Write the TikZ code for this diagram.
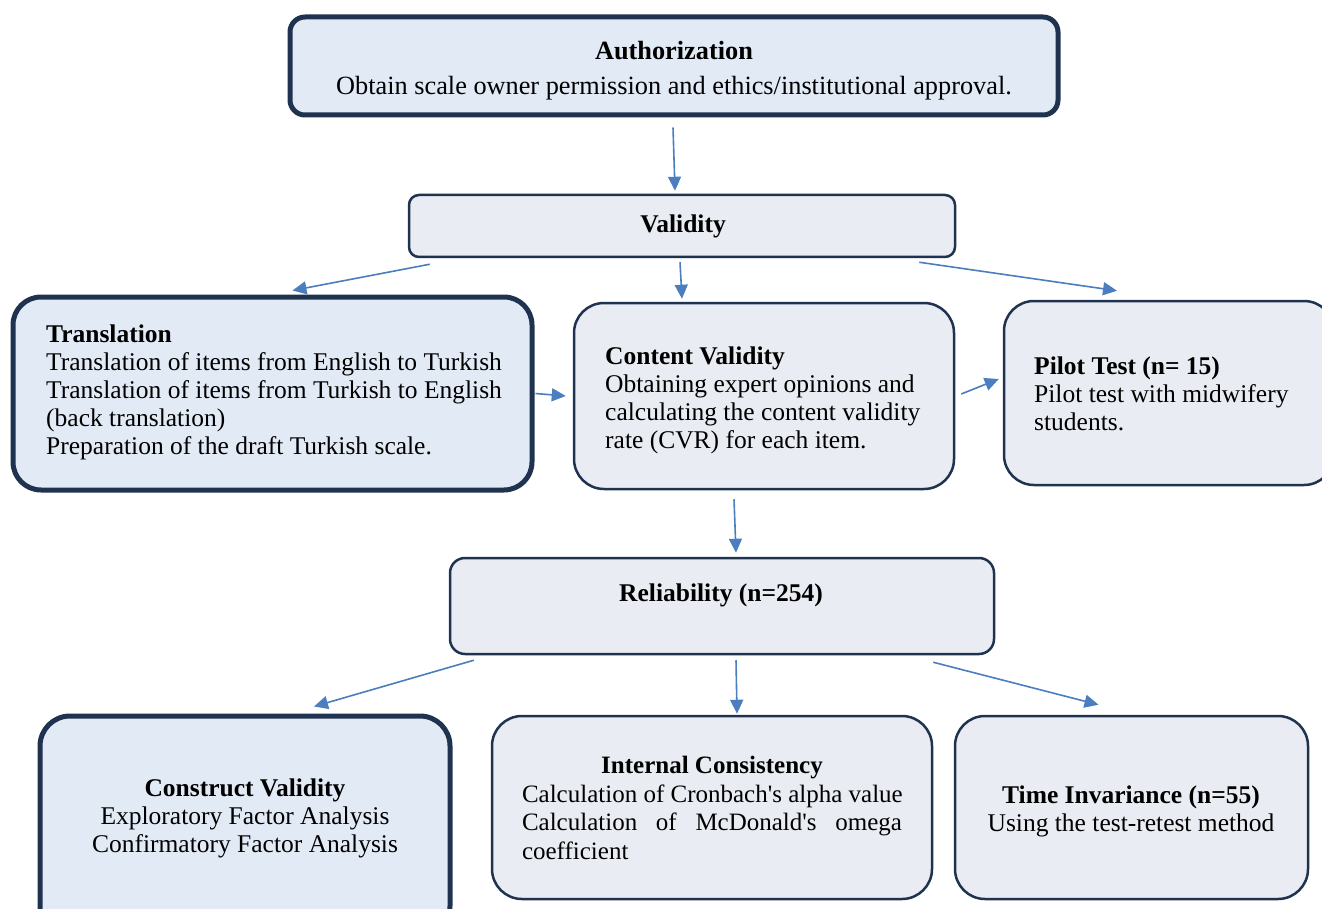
\documentclass[tikz,border=0pt]{standalone}
\usepackage{fontspec}
\setmainfont{Liberation Serif}
\usetikzlibrary{arrows.meta,calc}
\definecolor{bordc}{HTML}{1F3350}
\definecolor{fillblue}{HTML}{E2EAF6}
\definecolor{fillgray}{HTML}{E9ECF2}
\definecolor{arrc}{HTML}{4A7EBE}
\tikzset{
  thickbox/.style={draw=bordc, line width=5pt, fill=fillblue, rectangle},
  thinbox/.style={draw=bordc, line width=2.5pt, fill=fillgray, rectangle},
  txt/.style={inner sep=0pt, font=\fontsize{25.5}{28}\selectfont},
  conn/.style={draw=arrc, line width=1.6pt, -{Triangle[length=14pt,width=13pt]}}
}
\newcommand{\apo}{\textquotesingle}
\begin{document}
\begin{tikzpicture}[x=1pt,y=-1pt]
\useasboundingbox (0,0) rectangle (1322,909);
\clip (0,0) rectangle (1322,909);
% boxes
\node[thickbox, rounded corners=15pt, minimum width=768pt, minimum height=98pt] (auth) at (674,66) {};
\node[thinbox, rounded corners=10pt, minimum width=546pt, minimum height=62pt] (valid) at (682,226) {};
\node[thickbox, rounded corners=28pt, minimum width=519pt, minimum height=193pt] (trans) at (272.5,393.5) {};
\node[thinbox, rounded corners=30pt, minimum width=380pt, minimum height=186pt] (content) at (764,396) {};
\node[thinbox, rounded corners=30pt, minimum width=330pt, minimum height=184pt] (pilot) at (1169,393) {};
\node[thinbox, rounded corners=15pt, minimum width=544pt, minimum height=96pt] (rel) at (722,606) {};
\node[thickbox, rounded corners=30pt, minimum width=410pt, minimum height=220pt] (constr) at (245,826) {};
\node[thinbox, rounded corners=30pt, minimum width=440pt, minimum height=183pt] (intc) at (712,807.5) {};
\node[thinbox, rounded corners=30pt, minimum width=353pt, minimum height=183pt] (timei) at (1131.5,807.5) {};
% texts
\node[txt, font=\fontsize{26.3}{35}\selectfont, align=center, anchor=north] (authT) at (674,41) {\textbf{Authorization}\\Obtain scale owner permission and ethics/institutional approval.};
\node[txt, anchor=north] (validT) at (683,215) {\textbf{Validity}};
\node[txt, align=left, anchor=north west] (transT) at (46,325) {\textbf{Translation}\\Translation of items from English to Turkish\\Translation of items from Turkish to English\\(back translation)\\Preparation of the draft Turkish scale.};
\node[txt, align=left, anchor=north west] (contentT) at (605,347) {\textbf{Content Validity}\\Obtaining expert opinions and\\calculating the content validity\\rate (CVR) for each item.};
\node[txt, align=left, anchor=north west] (pilotT) at (1034,357) {\textbf{Pilot Test (n= 15)}\\Pilot test with midwifery\\students.};
\node[txt, anchor=north] (relT) at (721,584) {\textbf{Reliability (n=254)}};
\node[txt, align=center, anchor=north] (constrT) at (245,779) {\textbf{Construct Validity}\\Exploratory Factor Analysis\\Confirmatory Factor Analysis};
\node[txt, font=\fontsize{25}{28.5}\selectfont, align=center, anchor=north] (intcT) at (712,756) {\textbf{Internal Consistency}\\\makebox[380pt][l]{Calculation of Cronbach\apo s alpha value}\\\makebox[380pt][s]{Calculation of McDonald\apo s omega}\\\makebox[380pt][l]{coefficient}};
\node[txt, align=center, anchor=north] (timeT) at (1131,786) {\textbf{Time Invariance (n=55)}\\Using the test-retest method};
% connectors
\draw[conn] ([xshift=-1pt,yshift=-10pt]auth.south) -- ([xshift=-7pt,yshift=3pt]valid.north);
\draw[conn] ([xshift=22pt,yshift=-6pt]valid.south west) -- ([xshift=20pt,yshift=4pt]trans.north);
\draw[conn] ([xshift=-2pt,yshift=-4pt]valid.south) -- ([xshift=-82pt,yshift=3pt]content.north);
\draw[conn] ([xshift=-37pt,yshift=-4pt]valid.south east) -- ([xshift=-52pt,yshift=9pt]pilot.north);
\draw[conn] ([xshift=1pt]trans.east) -- ([xshift=-7pt]content.west);
\draw[conn] ([xshift=6pt,yshift=2pt]content.east) -- ([xshift=-4pt,yshift=14pt]pilot.west);
\draw[conn] ([xshift=-30pt,yshift=-9pt]content.south) -- ([xshift=14pt,yshift=4pt]rel.north);
\draw[conn] ([xshift=25pt,yshift=-5pt]rel.south west) -- ([xshift=69pt,yshift=7pt]constr.north);
\draw[conn] ([xshift=14pt,yshift=-5pt]rel.south) -- ([xshift=25pt,yshift=1pt]intc.north);
\draw[conn] ([xshift=-62pt,yshift=-7pt]rel.south east) -- ([xshift=-33pt,yshift=10pt]timei.north);
\end{tikzpicture}
\end{document}
